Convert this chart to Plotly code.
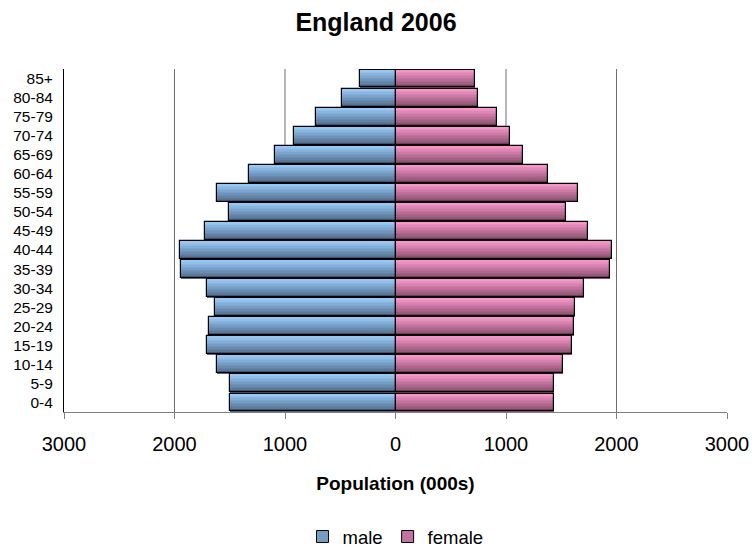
import plotly.graph_objects as go

# Population of England in 2006, thousands, by five-year age band
age_groups = ["0-4", "5-9", "10-14", "15-19", "20-24", "25-29", "30-34", "35-39",
              "40-44", "45-49", "50-54", "55-59", "60-64", "65-69", "70-74",
              "75-79", "80-84", "85+"]
male = [1502, 1502, 1611, 1710, 1687, 1635, 1710, 1937, 1949, 1723, 1511, 1611,
        1325, 1090, 918, 718, 483, 320]
female = [1430, 1430, 1513, 1601, 1613, 1625, 1703, 1938, 1962, 1739, 1540, 1652,
          1378, 1156, 1032, 921, 746, 722]
x_ticks = [-3000, -2000, -1000, 0, 1000, 2000, 3000]
grid_at = [-2000, -1000, 1000, 2000]

FONT = "Liberation Sans, Arial, sans-serif"
BAR_W = 0.94
N_SLICES = 12

# light (top) and dark (bottom) ends of each bar's vertical gradient
palettes = {
    "male": ((153, 204, 250), (74, 100, 130)),
    "female": ((250, 152, 204), (128, 72, 102)),
}


def mix(c1, c2, t):
    return "rgb({},{},{})".format(*[round(a + (b - a) * t) for a, b in zip(c1, c2)])


ypos = list(range(len(age_groups)))
fig = go.Figure()

series = [("male", [-v for v in male]), ("female", female)]
for name, vals in series:
    light, dark = palettes[name]
    # base bar, also provides the legend swatch
    fig.add_trace(go.Bar(
        x=vals, y=ypos, orientation="h", name=name, width=BAR_W,
        marker=dict(color=mix(light, dark, 0.45), line=dict(color="black", width=1)),
        legendgroup=name, hoverinfo="x+y",
    ))
    # horizontal slices building the light-to-dark shading
    sw = BAR_W / N_SLICES
    for k in range(N_SLICES):
        t = 1 - (k + 0.5) / N_SLICES  # k=0 is bottom slice -> darkest
        fig.add_trace(go.Bar(
            x=vals, y=ypos, orientation="h", width=sw * 1.02,
            offset=-BAR_W / 2 + k * sw,
            marker=dict(color=mix(light, dark, t), line=dict(width=0)),
            showlegend=False, legendgroup=name, hoverinfo="skip",
        ))
    # outline drawn over the shading
    fig.add_trace(go.Bar(
        x=vals, y=ypos, orientation="h", width=BAR_W,
        marker=dict(color="rgba(0,0,0,0)", line=dict(color="black", width=1.2)),
        showlegend=False, legendgroup=name, hoverinfo="skip",
    ))

for g in grid_at:
    fig.add_shape(type="line", xref="x", yref="paper", x0=g, x1=g, y0=0, y1=1,
                  line=dict(color="#6e6e6e", width=1), layer="below")

fig.update_layout(
    width=752, height=548,
    barmode="overlay",
    bargap=0,
    plot_bgcolor="white", paper_bgcolor="white",
    margin=dict(l=64, r=25, t=69, b=136, autoexpand=False),
    font=dict(family=FONT, color="black"),
    title=dict(text="<b>England 2006</b>", x=0.5, xanchor="center",
               y=1 - 22 / 548, yanchor="middle",
               font=dict(size=25, family=FONT, color="black")),
    xaxis=dict(
        range=[-3000, 3000], tickvals=x_ticks,
        ticktext=[str(abs(v)) for v in x_ticks],
        showgrid=False, zeroline=False,
        showline=True, linecolor="#808080", linewidth=1,
        ticks="outside", ticklen=6, tickcolor="#808080",
        ticklabelstandoff=8,
        tickfont=dict(size=20, family=FONT, color="black"),
        title=dict(text="<b>Population (000s)</b>", standoff=22,
                   font=dict(size=19, family=FONT, color="black")),
        automargin=False, fixedrange=True,
    ),
    yaxis=dict(
        range=[-0.5, len(age_groups) - 0.5],
        tickvals=ypos, ticktext=age_groups,
        showgrid=False, zeroline=False,
        showline=True, linecolor="black", linewidth=1,
        ticks="", ticklabelstandoff=7,
        tickfont=dict(size=15.5, family=FONT, color="black"),
        automargin=False, fixedrange=True,
    ),
    legend=dict(orientation="h", x=0.5, xanchor="center",
                y=(412 - 537) / 343, yanchor="middle",
                font=dict(size=18.5, family=FONT, color="black"),
                itemwidth=30, tracegroupgap=0),
    showlegend=True,
)

fig.write_html("out.html")
